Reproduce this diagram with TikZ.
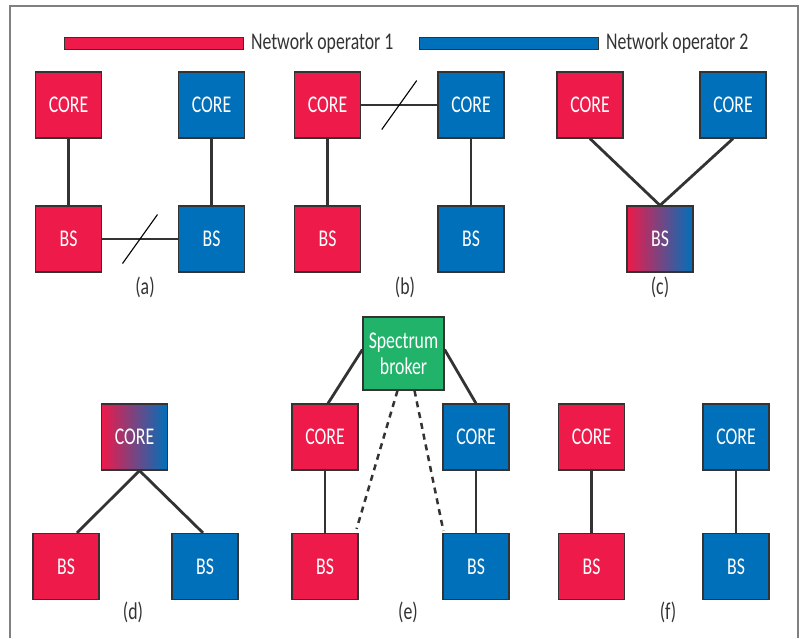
\documentclass[tikz,border=0pt]{standalone}
\usepackage{fontspec}
\setmainfont{Carlito}[FakeStretch=0.74]
\usepackage{xcolor}
\usepackage{tikz}
\usetikzlibrary{positioning}
\definecolor{opred}{HTML}{EE1A4A}
\definecolor{opblue}{HTML}{0070BA}
\definecolor{broker}{HTML}{22B36B}
\definecolor{edge}{HTML}{333333}
\tikzset{
  unit/.style={draw=edge, line width=1.2pt, minimum width=66pt, minimum height=66pt, inner sep=0pt, text=white, font=\fontsize{24}{26}\selectfont},
  redbox/.style={unit, fill=opred},
  bluebox/.style={unit, fill=opblue},
  mixbox/.style={unit, left color=opred, right color=opblue},
  brokerbox/.style={unit, fill=broker, minimum width=81pt, minimum height=73pt, align=center},
  link/.style={line width=2.8pt, draw=edge},
  ctrl/.style={line width=2.5pt, draw=edge, dash pattern=on 6pt off 5pt},
  cut/.style={line width=1.1pt, draw=black},
  caption/.style={font=\fontsize{24}{26}\selectfont, text=black!80},
  legend/.style={draw=edge, line width=1pt, minimum width=179pt, minimum height=12pt, inner sep=0pt}
}

\begin{document}
\begin{tikzpicture}[x=1pt, y=-1pt]
    \useasboundingbox (0,0) rectangle (803,638);
    \draw[black!50, line width=1.5pt] (10,638) -- (10,6) -- (798,6) -- (798,638);

    % legend
    \node[legend, fill=opred] (keyred) at (153.5,43) {};
    \node[caption, right=4pt of keyred] (keyredtxt) {Network operator 1};
    \node[legend, fill=opblue] (keyblue) at (508.5,43) {};
    \node[caption, right=4pt of keyblue] (keybluetxt) {Network operator 2};

    % (a)
    \node[redbox] (coreA1) at (68.5,105) {CORE};
    \node[bluebox] (coreA2) at (211.5,105) {CORE};
    \node[redbox] (bsA1) at (68.5,239) {BS};
    \node[bluebox] (bsA2) at (211.5,239) {BS};
    \node[caption] (capA) at (145,287) {(a)};
    \draw[link] (coreA1) -- (bsA1);
    \draw[link] (coreA2) -- (bsA2);
    \draw[link] (bsA1) -- coordinate[midway] (cutA) (bsA2);
    \draw[cut] ([shift={(-17.5,24.5)}]cutA) -- ([shift={(17.5,-24.5)}]cutA);

    % (b)
    \node[redbox] (coreB1) at (327.5,105) {CORE};
    \node[bluebox] (coreB2) at (471,105) {CORE};
    \node[redbox] (bsB1) at (327.5,239) {BS};
    \node[bluebox] (bsB2) at (471,239) {BS};
    \node[caption] (capB) at (405,287) {(b)};
    \draw[link] (coreB1) -- (bsB1);
    \draw[link] (coreB2) -- (bsB2);
    \draw[link] (coreB1) -- coordinate[midway] (cutB) (coreB2);
    \draw[cut] ([shift={(-17.5,24.5)}]cutB) -- ([shift={(17.5,-24.5)}]cutB);

    % (c)
    \node[redbox] (coreC1) at (590,105) {CORE};
    \node[bluebox] (coreC2) at (733,105) {CORE};
    \node[mixbox] (bsC) at (660,239) {BS};
    \node[caption] (capC) at (660,287) {(c)};
    \draw[link] (coreC1.south) -- (bsC.north);
    \draw[link] (coreC2.south) -- (bsC.north);

    % (d)
    \node[mixbox] (coreD) at (134.5,437) {CORE};
    \node[redbox] (bsD1) at (66,566.5) {BS};
    \node[bluebox] (bsD2) at (205,566.5) {BS};
    \node[caption] (capD) at (133,612) {(d)};
    \draw[link] ([xshift=5pt]coreD.south) -- ([xshift=11pt]bsD1.north);
    \draw[link] ([xshift=5pt]coreD.south) -- ([xshift=-2pt]bsD2.north);

    % (e)
    \node[brokerbox] (sb) at (403.5,353.5) {Spectrum\\broker};
    \node[redbox] (coreE1) at (325,437) {CORE};
    \node[bluebox] (coreE2) at (476,437) {CORE};
    \node[redbox] (bsE1) at (325,566.5) {BS};
    \node[bluebox] (bsE2) at (476,566.5) {BS};
    \node[caption] (capE) at (408,612) {(e)};
    \draw[link] ([yshift=4pt]sb.west) -- ([xshift=3pt]coreE1.north);
    \draw[link] ([yshift=4pt]sb.east) -- (coreE2.north);
    \draw[link] (coreE1) -- (bsE1);
    \draw[link] (coreE2) -- (bsE2);
    \draw[ctrl] ([xshift=-6pt]sb.south) -- ([shift={(-2,-4)}]bsE1.north east);
    \draw[ctrl] ([xshift=11pt]sb.south) -- ([shift={(1,-2)}]bsE2.north west);

    % (f)
    \node[redbox] (coreF1) at (591.5,437) {CORE};
    \node[bluebox] (coreF2) at (736,437) {CORE};
    \node[redbox] (bsF1) at (591.5,566.5) {BS};
    \node[bluebox] (bsF2) at (736,566.5) {BS};
    \node[caption] (capF) at (668,612) {(f)};
    \draw[link] (coreF1) -- (bsF1);
    \draw[link] (coreF2) -- (bsF2);
\end{tikzpicture}
\end{document}
